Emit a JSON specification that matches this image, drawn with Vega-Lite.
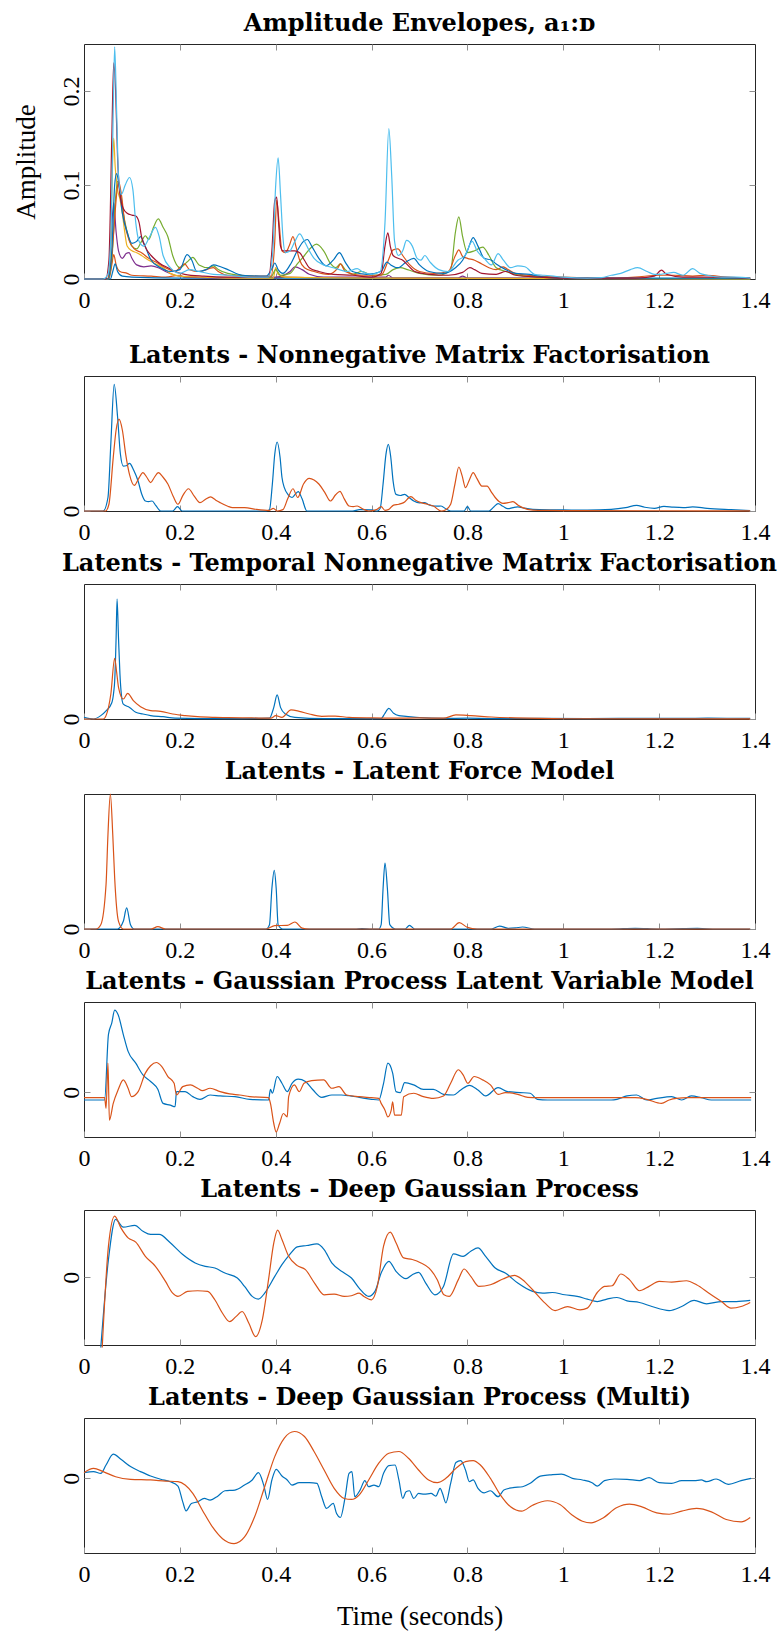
{
"$schema":"https://vega.github.io/schema/vega-lite/v6.json",
"background":"white",
"padding":{"left":11,"top":11,"right":5,"bottom":5},
"spacing":6,
"resolve":{"scale":{"color":"independent"}},
"config":{
 "view":{"stroke":"#262626","strokeWidth":1},
 "axis":{"domain":false,"grid":false,"tickColor":"#909090","tickSize":-6,"tickWidth":1,"labelFont":"Liberation Serif","labelFontSize":24,"labelColor":"#000","titleFont":"Liberation Serif","titleFontSize":27,"titleFontWeight":"normal","titleColor":"#000","labelFlush":false,"labelOverlap":false,"labelBound":false},
 "axisX":{"labelPadding":15},
 "axisY":{"labelAngle":-90,"labelAlign":"center","labelBaseline":"alphabetic","labelPadding":12},
 "title":{"font":"DejaVu Serif","fontSize":24,"fontWeight":"bold","color":"#000","offset":8},
 "line":{"strokeWidth":1.2,"interpolate":"monotone","clip":true}
},
"datasets":{
"p1":[
{"s":"a1","t":0,"v":0},{"s":"a1","t":0.052,"v":0},{"s":"a1","t":0.058,"v":0.015},{"s":"a1","t":0.062,"v":0.026},{"s":"a1","t":0.067,"v":0.015},{"s":"a1","t":0.075,"v":0.008},{"s":"a1","t":0.09,"v":0.006},{"s":"a1","t":0.1,"v":0.004},{"s":"a1","t":0.14,"v":0.003},{"s":"a1","t":0.17,"v":0.002},{"s":"a1","t":0.2,"v":0.004},{"s":"a1","t":0.21,"v":0.002},{"s":"a1","t":0.3,"v":0.001},{"s":"a1","t":0.4,"v":0.001},{"s":"a1","t":0.42,"v":0.002},{"s":"a1","t":0.5,"v":0.001},{"s":"a1","t":1.39,"v":0},
{"s":"a2","t":0,"v":0},{"s":"a2","t":0.055,"v":0},{"s":"a2","t":0.06,"v":0.008},{"s":"a2","t":0.065,"v":0.016},{"s":"a2","t":0.07,"v":0.008},{"s":"a2","t":0.08,"v":0.003},{"s":"a2","t":0.1,"v":0.002},{"s":"a2","t":0.2,"v":0.001},{"s":"a2","t":0.4,"v":0.001},{"s":"a2","t":1.39,"v":0},
{"s":"a3","t":0,"v":0},{"s":"a3","t":0.05,"v":0},{"s":"a3","t":0.056,"v":0.04},{"s":"a3","t":0.062,"v":0.081},{"s":"a3","t":0.067,"v":0.05},{"s":"a3","t":0.072,"v":0.03},{"s":"a3","t":0.08,"v":0.022},{"s":"a3","t":0.088,"v":0.027},{"s":"a3","t":0.094,"v":0.028},{"s":"a3","t":0.1,"v":0.022},{"s":"a3","t":0.11,"v":0.015},{"s":"a3","t":0.125,"v":0.013},{"s":"a3","t":0.14,"v":0.014},{"s":"a3","t":0.155,"v":0.012},{"s":"a3","t":0.17,"v":0.008},{"s":"a3","t":0.19,"v":0.004},{"s":"a3","t":0.22,"v":0.002},{"s":"a3","t":0.3,"v":0.001},{"s":"a3","t":0.4,"v":0.002},{"s":"a3","t":0.43,"v":0.008},{"s":"a3","t":0.44,"v":0.013},{"s":"a3","t":0.455,"v":0.01},{"s":"a3","t":0.47,"v":0.005},{"s":"a3","t":0.5,"v":0.002},{"s":"a3","t":0.63,"v":0.002},{"s":"a3","t":0.635,"v":0.004},{"s":"a3","t":0.645,"v":0.001},{"s":"a3","t":0.78,"v":0.001},{"s":"a3","t":0.79,"v":0.003},{"s":"a3","t":0.8,"v":0.001},{"s":"a3","t":1.39,"v":0},
{"s":"a4","t":0,"v":0},{"s":"a4","t":0.05,"v":0},{"s":"a4","t":0.055,"v":0.02},{"s":"a4","t":0.058,"v":0.09},{"s":"a4","t":0.062,"v":0.15},{"s":"a4","t":0.065,"v":0.12},{"s":"a4","t":0.07,"v":0.095},{"s":"a4","t":0.075,"v":0.085},{"s":"a4","t":0.08,"v":0.07},{"s":"a4","t":0.085,"v":0.05},{"s":"a4","t":0.09,"v":0.035},{"s":"a4","t":0.1,"v":0.03},{"s":"a4","t":0.11,"v":0.028},{"s":"a4","t":0.12,"v":0.025},{"s":"a4","t":0.135,"v":0.02},{"s":"a4","t":0.15,"v":0.016},{"s":"a4","t":0.165,"v":0.012},{"s":"a4","t":0.18,"v":0.006},{"s":"a4","t":0.2,"v":0.003},{"s":"a4","t":0.25,"v":0.002},{"s":"a4","t":0.3,"v":0.001},{"s":"a4","t":0.395,"v":0.001},{"s":"a4","t":0.4,"v":0.012},{"s":"a4","t":0.405,"v":0.005},{"s":"a4","t":0.42,"v":0.002},{"s":"a4","t":0.6,"v":0.001},{"s":"a4","t":1.39,"v":0},
{"s":"a5","t":0,"v":0},{"s":"a5","t":0.05,"v":0},{"s":"a5","t":0.058,"v":0.02},{"s":"a5","t":0.065,"v":0.08},{"s":"a5","t":0.07,"v":0.104},{"s":"a5","t":0.075,"v":0.095},{"s":"a5","t":0.082,"v":0.07},{"s":"a5","t":0.09,"v":0.05},{"s":"a5","t":0.1,"v":0.035},{"s":"a5","t":0.11,"v":0.032},{"s":"a5","t":0.12,"v":0.04},{"s":"a5","t":0.128,"v":0.046},{"s":"a5","t":0.135,"v":0.042},{"s":"a5","t":0.145,"v":0.055},{"s":"a5","t":0.155,"v":0.064},{"s":"a5","t":0.165,"v":0.055},{"s":"a5","t":0.175,"v":0.045},{"s":"a5","t":0.185,"v":0.025},{"s":"a5","t":0.2,"v":0.012},{"s":"a5","t":0.215,"v":0.018},{"s":"a5","t":0.227,"v":0.023},{"s":"a5","t":0.24,"v":0.015},{"s":"a5","t":0.26,"v":0.012},{"s":"a5","t":0.27,"v":0.014},{"s":"a5","t":0.28,"v":0.01},{"s":"a5","t":0.3,"v":0.006},{"s":"a5","t":0.35,"v":0.003},{"s":"a5","t":0.39,"v":0.002},{"s":"a5","t":0.4,"v":0.01},{"s":"a5","t":0.41,"v":0.004},{"s":"a5","t":0.43,"v":0.006},{"s":"a5","t":0.445,"v":0.016},{"s":"a5","t":0.46,"v":0.025},{"s":"a5","t":0.475,"v":0.034},{"s":"a5","t":0.485,"v":0.037},{"s":"a5","t":0.5,"v":0.03},{"s":"a5","t":0.515,"v":0.016},{"s":"a5","t":0.525,"v":0.012},{"s":"a5","t":0.535,"v":0.016},{"s":"a5","t":0.545,"v":0.01},{"s":"a5","t":0.56,"v":0.005},{"s":"a5","t":0.58,"v":0.008},{"s":"a5","t":0.6,"v":0.004},{"s":"a5","t":0.63,"v":0.005},{"s":"a5","t":0.645,"v":0.01},{"s":"a5","t":0.66,"v":0.012},{"s":"a5","t":0.675,"v":0.01},{"s":"a5","t":0.7,"v":0.006},{"s":"a5","t":0.74,"v":0.004},{"s":"a5","t":0.765,"v":0.01},{"s":"a5","t":0.775,"v":0.05},{"s":"a5","t":0.782,"v":0.066},{"s":"a5","t":0.79,"v":0.045},{"s":"a5","t":0.8,"v":0.028},{"s":"a5","t":0.815,"v":0.03},{"s":"a5","t":0.832,"v":0.034},{"s":"a5","t":0.845,"v":0.025},{"s":"a5","t":0.86,"v":0.012},{"s":"a5","t":0.88,"v":0.008},{"s":"a5","t":0.9,"v":0.005},{"s":"a5","t":0.95,"v":0.002},{"s":"a5","t":1.0,"v":0.001},{"s":"a5","t":1.39,"v":0},
{"s":"a6","t":0,"v":0},{"s":"a6","t":0.048,"v":0},{"s":"a6","t":0.055,"v":0.01},{"s":"a6","t":0.062,"v":0.05},{"s":"a6","t":0.068,"v":0.09},{"s":"a6","t":0.072,"v":0.104},{"s":"a6","t":0.078,"v":0.09},{"s":"a6","t":0.085,"v":0.06},{"s":"a6","t":0.095,"v":0.04},{"s":"a6","t":0.105,"v":0.032},{"s":"a6","t":0.12,"v":0.028},{"s":"a6","t":0.135,"v":0.022},{"s":"a6","t":0.15,"v":0.018},{"s":"a6","t":0.17,"v":0.012},{"s":"a6","t":0.19,"v":0.008},{"s":"a6","t":0.2,"v":0.012},{"s":"a6","t":0.21,"v":0.016},{"s":"a6","t":0.22,"v":0.01},{"s":"a6","t":0.24,"v":0.008},{"s":"a6","t":0.27,"v":0.012},{"s":"a6","t":0.28,"v":0.008},{"s":"a6","t":0.3,"v":0.004},{"s":"a6","t":0.35,"v":0.003},{"s":"a6","t":0.39,"v":0.003},{"s":"a6","t":0.398,"v":0.04},{"s":"a6","t":0.402,"v":0.084},{"s":"a6","t":0.407,"v":0.06},{"s":"a6","t":0.413,"v":0.03},{"s":"a6","t":0.42,"v":0.028},{"s":"a6","t":0.428,"v":0.035},{"s":"a6","t":0.436,"v":0.045},{"s":"a6","t":0.442,"v":0.035},{"s":"a6","t":0.45,"v":0.02},{"s":"a6","t":0.46,"v":0.012},{"s":"a6","t":0.48,"v":0.008},{"s":"a6","t":0.51,"v":0.005},{"s":"a6","t":0.53,"v":0.012},{"s":"a6","t":0.535,"v":0.016},{"s":"a6","t":0.545,"v":0.008},{"s":"a6","t":0.58,"v":0.004},{"s":"a6","t":0.62,"v":0.004},{"s":"a6","t":0.635,"v":0.02},{"s":"a6","t":0.645,"v":0.031},{"s":"a6","t":0.655,"v":0.032},{"s":"a6","t":0.665,"v":0.025},{"s":"a6","t":0.68,"v":0.015},{"s":"a6","t":0.7,"v":0.008},{"s":"a6","t":0.73,"v":0.006},{"s":"a6","t":0.76,"v":0.008},{"s":"a6","t":0.775,"v":0.025},{"s":"a6","t":0.782,"v":0.031},{"s":"a6","t":0.79,"v":0.024},{"s":"a6","t":0.8,"v":0.022},{"s":"a6","t":0.815,"v":0.02},{"s":"a6","t":0.83,"v":0.016},{"s":"a6","t":0.845,"v":0.012},{"s":"a6","t":0.86,"v":0.01},{"s":"a6","t":0.875,"v":0.013},{"s":"a6","t":0.885,"v":0.01},{"s":"a6","t":0.9,"v":0.006},{"s":"a6","t":0.95,"v":0.003},{"s":"a6","t":1.0,"v":0.002},{"s":"a6","t":1.1,"v":0.001},{"s":"a6","t":1.15,"v":0.002},{"s":"a6","t":1.2,"v":0.004},{"s":"a6","t":1.23,"v":0.004},{"s":"a6","t":1.27,"v":0.003},{"s":"a6","t":1.3,"v":0.004},{"s":"a6","t":1.34,"v":0.002},{"s":"a6","t":1.39,"v":0.001},
{"s":"a7","t":0,"v":0},{"s":"a7","t":0.05,"v":0},{"s":"a7","t":0.058,"v":0.03},{"s":"a7","t":0.064,"v":0.1},{"s":"a7","t":0.068,"v":0.112},{"s":"a7","t":0.073,"v":0.1},{"s":"a7","t":0.08,"v":0.07},{"s":"a7","t":0.09,"v":0.05},{"s":"a7","t":0.1,"v":0.038},{"s":"a7","t":0.11,"v":0.04},{"s":"a7","t":0.118,"v":0.045},{"s":"a7","t":0.125,"v":0.038},{"s":"a7","t":0.14,"v":0.02},{"s":"a7","t":0.16,"v":0.012},{"s":"a7","t":0.18,"v":0.008},{"s":"a7","t":0.2,"v":0.01},{"s":"a7","t":0.215,"v":0.026},{"s":"a7","t":0.225,"v":0.02},{"s":"a7","t":0.235,"v":0.008},{"s":"a7","t":0.255,"v":0.01},{"s":"a7","t":0.27,"v":0.015},{"s":"a7","t":0.285,"v":0.013},{"s":"a7","t":0.3,"v":0.01},{"s":"a7","t":0.33,"v":0.004},{"s":"a7","t":0.38,"v":0.003},{"s":"a7","t":0.393,"v":0.012},{"s":"a7","t":0.398,"v":0.017},{"s":"a7","t":0.405,"v":0.01},{"s":"a7","t":0.415,"v":0.006},{"s":"a7","t":0.43,"v":0.015},{"s":"a7","t":0.445,"v":0.03},{"s":"a7","t":0.458,"v":0.04},{"s":"a7","t":0.466,"v":0.042},{"s":"a7","t":0.475,"v":0.035},{"s":"a7","t":0.49,"v":0.022},{"s":"a7","t":0.505,"v":0.014},{"s":"a7","t":0.52,"v":0.02},{"s":"a7","t":0.533,"v":0.028},{"s":"a7","t":0.545,"v":0.018},{"s":"a7","t":0.56,"v":0.008},{"s":"a7","t":0.59,"v":0.005},{"s":"a7","t":0.62,"v":0.008},{"s":"a7","t":0.632,"v":0.018},{"s":"a7","t":0.64,"v":0.015},{"s":"a7","t":0.655,"v":0.012},{"s":"a7","t":0.672,"v":0.018},{"s":"a7","t":0.688,"v":0.022},{"s":"a7","t":0.7,"v":0.015},{"s":"a7","t":0.72,"v":0.008},{"s":"a7","t":0.75,"v":0.006},{"s":"a7","t":0.775,"v":0.012},{"s":"a7","t":0.79,"v":0.02},{"s":"a7","t":0.8,"v":0.03},{"s":"a7","t":0.812,"v":0.044},{"s":"a7","t":0.822,"v":0.035},{"s":"a7","t":0.835,"v":0.022},{"s":"a7","t":0.85,"v":0.02},{"s":"a7","t":0.86,"v":0.016},{"s":"a7","t":0.88,"v":0.01},{"s":"a7","t":0.9,"v":0.006},{"s":"a7","t":0.93,"v":0.005},{"s":"a7","t":0.96,"v":0.002},{"s":"a7","t":1.0,"v":0.001},{"s":"a7","t":1.39,"v":0.001},
{"s":"a8","t":0,"v":0},{"s":"a8","t":0.045,"v":0},{"s":"a8","t":0.052,"v":0.02},{"s":"a8","t":0.058,"v":0.15},{"s":"a8","t":0.062,"v":0.23},{"s":"a8","t":0.066,"v":0.2},{"s":"a8","t":0.07,"v":0.13},{"s":"a8","t":0.075,"v":0.09},{"s":"a8","t":0.082,"v":0.075},{"s":"a8","t":0.09,"v":0.07},{"s":"a8","t":0.1,"v":0.068},{"s":"a8","t":0.108,"v":0.067},{"s":"a8","t":0.115,"v":0.06},{"s":"a8","t":0.12,"v":0.045},{"s":"a8","t":0.13,"v":0.032},{"s":"a8","t":0.14,"v":0.025},{"s":"a8","t":0.15,"v":0.02},{"s":"a8","t":0.16,"v":0.016},{"s":"a8","t":0.175,"v":0.012},{"s":"a8","t":0.19,"v":0.008},{"s":"a8","t":0.21,"v":0.005},{"s":"a8","t":0.25,"v":0.003},{"s":"a8","t":0.3,"v":0.002},{"s":"a8","t":0.385,"v":0.002},{"s":"a8","t":0.392,"v":0.03},{"s":"a8","t":0.398,"v":0.083},{"s":"a8","t":0.402,"v":0.087},{"s":"a8","t":0.406,"v":0.06},{"s":"a8","t":0.41,"v":0.035},{"s":"a8","t":0.415,"v":0.03},{"s":"a8","t":0.425,"v":0.03},{"s":"a8","t":0.44,"v":0.03},{"s":"a8","t":0.45,"v":0.028},{"s":"a8","t":0.46,"v":0.02},{"s":"a8","t":0.47,"v":0.012},{"s":"a8","t":0.49,"v":0.008},{"s":"a8","t":0.52,"v":0.005},{"s":"a8","t":0.56,"v":0.004},{"s":"a8","t":0.6,"v":0.002},{"s":"a8","t":0.62,"v":0.006},{"s":"a8","t":0.628,"v":0.035},{"s":"a8","t":0.634,"v":0.049},{"s":"a8","t":0.639,"v":0.035},{"s":"a8","t":0.645,"v":0.025},{"s":"a8","t":0.655,"v":0.022},{"s":"a8","t":0.665,"v":0.02},{"s":"a8","t":0.675,"v":0.015},{"s":"a8","t":0.69,"v":0.008},{"s":"a8","t":0.72,"v":0.005},{"s":"a8","t":0.76,"v":0.004},{"s":"a8","t":0.79,"v":0.007},{"s":"a8","t":0.805,"v":0.012},{"s":"a8","t":0.815,"v":0.01},{"s":"a8","t":0.83,"v":0.006},{"s":"a8","t":0.86,"v":0.005},{"s":"a8","t":0.88,"v":0.008},{"s":"a8","t":0.9,"v":0.004},{"s":"a8","t":0.95,"v":0.002},{"s":"a8","t":1.0,"v":0.001},{"s":"a8","t":1.15,"v":0.001},{"s":"a8","t":1.19,"v":0.003},{"s":"a8","t":1.205,"v":0.0095},{"s":"a8","t":1.215,"v":0.005},{"s":"a8","t":1.25,"v":0.002},{"s":"a8","t":1.3,"v":0.002},{"s":"a8","t":1.39,"v":0.001},
{"s":"a9","t":0,"v":0},{"s":"a9","t":0.04,"v":0},{"s":"a9","t":0.05,"v":0.005},{"s":"a9","t":0.057,"v":0.06},{"s":"a9","t":0.061,"v":0.18},{"s":"a9","t":0.064,"v":0.247},{"s":"a9","t":0.068,"v":0.18},{"s":"a9","t":0.072,"v":0.11},{"s":"a9","t":0.078,"v":0.09},{"s":"a9","t":0.086,"v":0.1},{"s":"a9","t":0.095,"v":0.108},{"s":"a9","t":0.102,"v":0.095},{"s":"a9","t":0.108,"v":0.06},{"s":"a9","t":0.115,"v":0.04},{"s":"a9","t":0.125,"v":0.035},{"s":"a9","t":0.137,"v":0.045},{"s":"a9","t":0.149,"v":0.055},{"s":"a9","t":0.157,"v":0.045},{"s":"a9","t":0.165,"v":0.025},{"s":"a9","t":0.18,"v":0.012},{"s":"a9","t":0.2,"v":0.006},{"s":"a9","t":0.22,"v":0.01},{"s":"a9","t":0.24,"v":0.008},{"s":"a9","t":0.27,"v":0.005},{"s":"a9","t":0.3,"v":0.004},{"s":"a9","t":0.35,"v":0.002},{"s":"a9","t":0.385,"v":0.002},{"s":"a9","t":0.394,"v":0.03},{"s":"a9","t":0.4,"v":0.1},{"s":"a9","t":0.405,"v":0.129},{"s":"a9","t":0.41,"v":0.09},{"s":"a9","t":0.415,"v":0.045},{"s":"a9","t":0.42,"v":0.028},{"s":"a9","t":0.43,"v":0.03},{"s":"a9","t":0.44,"v":0.04},{"s":"a9","t":0.45,"v":0.048},{"s":"a9","t":0.46,"v":0.04},{"s":"a9","t":0.47,"v":0.03},{"s":"a9","t":0.48,"v":0.022},{"s":"a9","t":0.5,"v":0.015},{"s":"a9","t":0.52,"v":0.012},{"s":"a9","t":0.55,"v":0.008},{"s":"a9","t":0.57,"v":0.011},{"s":"a9","t":0.58,"v":0.008},{"s":"a9","t":0.6,"v":0.005},{"s":"a9","t":0.618,"v":0.008},{"s":"a9","t":0.628,"v":0.06},{"s":"a9","t":0.636,"v":0.16},{"s":"a9","t":0.642,"v":0.11},{"s":"a9","t":0.648,"v":0.04},{"s":"a9","t":0.656,"v":0.025},{"s":"a9","t":0.665,"v":0.03},{"s":"a9","t":0.673,"v":0.041},{"s":"a9","t":0.685,"v":0.035},{"s":"a9","t":0.695,"v":0.022},{"s":"a9","t":0.703,"v":0.02},{"s":"a9","t":0.711,"v":0.025},{"s":"a9","t":0.722,"v":0.018},{"s":"a9","t":0.74,"v":0.01},{"s":"a9","t":0.76,"v":0.008},{"s":"a9","t":0.78,"v":0.02},{"s":"a9","t":0.795,"v":0.025},{"s":"a9","t":0.81,"v":0.04},{"s":"a9","t":0.82,"v":0.03},{"s":"a9","t":0.835,"v":0.022},{"s":"a9","t":0.85,"v":0.015},{"s":"a9","t":0.864,"v":0.027},{"s":"a9","t":0.875,"v":0.02},{"s":"a9","t":0.89,"v":0.012},{"s":"a9","t":0.905,"v":0.014},{"s":"a9","t":0.92,"v":0.013},{"s":"a9","t":0.94,"v":0.005},{"s":"a9","t":0.96,"v":0.004},{"s":"a9","t":0.98,"v":0.003},{"s":"a9","t":1.0,"v":0.002},{"s":"a9","t":1.05,"v":0.001},{"s":"a9","t":1.08,"v":0.0015},{"s":"a9","t":1.1,"v":0.004},{"s":"a9","t":1.12,"v":0.006},{"s":"a9","t":1.14,"v":0.01},{"s":"a9","t":1.155,"v":0.012},{"s":"a9","t":1.175,"v":0.008},{"s":"a9","t":1.19,"v":0.005},{"s":"a9","t":1.2,"v":0.005},{"s":"a9","t":1.215,"v":0.006},{"s":"a9","t":1.23,"v":0.007},{"s":"a9","t":1.25,"v":0.004},{"s":"a9","t":1.27,"v":0.011},{"s":"a9","t":1.285,"v":0.006},{"s":"a9","t":1.3,"v":0.004},{"s":"a9","t":1.33,"v":0.002},{"s":"a9","t":1.36,"v":0.002},{"s":"a9","t":1.39,"v":0.001}
],
"p2":[
{"s":"a","t":0,"v":0},{"s":"a","t":0.04,"v":0},{"s":"a","t":0.05,"v":0.1},{"s":"a","t":0.056,"v":0.5},{"s":"a","t":0.063,"v":0.938},{"s":"a","t":0.07,"v":0.7},{"s":"a","t":0.076,"v":0.42},{"s":"a","t":0.082,"v":0.333},{"s":"a","t":0.088,"v":0.335},{"s":"a","t":0.095,"v":0.353},{"s":"a","t":0.104,"v":0.3},{"s":"a","t":0.113,"v":0.22},{"s":"a","t":0.12,"v":0.13},{"s":"a","t":0.128,"v":0.074},{"s":"a","t":0.135,"v":0.07},{"s":"a","t":0.142,"v":0.074},{"s":"a","t":0.15,"v":0.04},{"s":"a","t":0.16,"v":0},{"s":"a","t":0.185,"v":0},{"s":"a","t":0.195,"v":0.032},{"s":"a","t":0.205,"v":0},{"s":"a","t":0.38,"v":0},{"s":"a","t":0.387,"v":0.01},{"s":"a","t":0.393,"v":0.2},{"s":"a","t":0.398,"v":0.42},{"s":"a","t":0.403,"v":0.511},{"s":"a","t":0.409,"v":0.4},{"s":"a","t":0.413,"v":0.25},{"s":"a","t":0.418,"v":0.173},{"s":"a","t":0.426,"v":0.12},{"s":"a","t":0.434,"v":0.1},{"s":"a","t":0.441,"v":0.125},{"s":"a","t":0.447,"v":0.143},{"s":"a","t":0.455,"v":0.09},{"s":"a","t":0.465,"v":0},{"s":"a","t":0.56,"v":0},{"s":"a","t":0.575,"v":0.01},{"s":"a","t":0.6,"v":0.008},{"s":"a","t":0.612,"v":0},{"s":"a","t":0.618,"v":0.02},{"s":"a","t":0.624,"v":0.2},{"s":"a","t":0.63,"v":0.42},{"s":"a","t":0.635,"v":0.494},{"s":"a","t":0.64,"v":0.4},{"s":"a","t":0.645,"v":0.22},{"s":"a","t":0.651,"v":0.123},{"s":"a","t":0.66,"v":0.115},{"s":"a","t":0.669,"v":0.123},{"s":"a","t":0.678,"v":0.1},{"s":"a","t":0.688,"v":0.074},{"s":"a","t":0.7,"v":0.06},{"s":"a","t":0.71,"v":0.062},{"s":"a","t":0.72,"v":0.045},{"s":"a","t":0.729,"v":0.037},{"s":"a","t":0.737,"v":0.036},{"s":"a","t":0.745,"v":0.037},{"s":"a","t":0.755,"v":0.015},{"s":"a","t":0.765,"v":0},{"s":"a","t":0.793,"v":0},{"s":"a","t":0.8,"v":0.032},{"s":"a","t":0.807,"v":0},{"s":"a","t":0.845,"v":0},{"s":"a","t":0.855,"v":0.03},{"s":"a","t":0.864,"v":0.054},{"s":"a","t":0.874,"v":0.035},{"s":"a","t":0.884,"v":0.017},{"s":"a","t":0.895,"v":0.025},{"s":"a","t":0.905,"v":0.03},{"s":"a","t":0.915,"v":0.024},{"s":"a","t":0.925,"v":0.017},{"s":"a","t":0.95,"v":0.01},{"s":"a","t":1.0,"v":0.008},{"s":"a","t":1.05,"v":0.006},{"s":"a","t":1.1,"v":0.012},{"s":"a","t":1.13,"v":0.025},{"s":"a","t":1.153,"v":0.042},{"s":"a","t":1.17,"v":0.028},{"s":"a","t":1.19,"v":0.02},{"s":"a","t":1.21,"v":0.034},{"s":"a","t":1.23,"v":0.028},{"s":"a","t":1.25,"v":0.025},{"s":"a","t":1.27,"v":0.03},{"s":"a","t":1.3,"v":0.02},{"s":"a","t":1.35,"v":0.01},{"s":"a","t":1.39,"v":0.003},
{"s":"b","t":0,"v":0},{"s":"b","t":0.045,"v":0},{"s":"b","t":0.052,"v":0.05},{"s":"b","t":0.061,"v":0.395},{"s":"b","t":0.067,"v":0.6},{"s":"b","t":0.073,"v":0.68},{"s":"b","t":0.08,"v":0.6},{"s":"b","t":0.087,"v":0.42},{"s":"b","t":0.095,"v":0.27},{"s":"b","t":0.105,"v":0.19},{"s":"b","t":0.114,"v":0.24},{"s":"b","t":0.123,"v":0.284},{"s":"b","t":0.131,"v":0.25},{"s":"b","t":0.139,"v":0.21},{"s":"b","t":0.147,"v":0.25},{"s":"b","t":0.155,"v":0.284},{"s":"b","t":0.165,"v":0.25},{"s":"b","t":0.175,"v":0.2},{"s":"b","t":0.186,"v":0.11},{"s":"b","t":0.196,"v":0.05},{"s":"b","t":0.207,"v":0.12},{"s":"b","t":0.218,"v":0.165},{"s":"b","t":0.23,"v":0.11},{"s":"b","t":0.242,"v":0.062},{"s":"b","t":0.253,"v":0.085},{"s":"b","t":0.264,"v":0.104},{"s":"b","t":0.275,"v":0.08},{"s":"b","t":0.284,"v":0.062},{"s":"b","t":0.3,"v":0.035},{"s":"b","t":0.31,"v":0.025},{"s":"b","t":0.335,"v":0.025},{"s":"b","t":0.36,"v":0.012},{"s":"b","t":0.387,"v":0.005},{"s":"b","t":0.395,"v":0.02},{"s":"b","t":0.403,"v":0},{"s":"b","t":0.415,"v":0.01},{"s":"b","t":0.425,"v":0.09},{"s":"b","t":0.436,"v":0.165},{"s":"b","t":0.446,"v":0.1},{"s":"b","t":0.458,"v":0.2},{"s":"b","t":0.47,"v":0.242},{"s":"b","t":0.48,"v":0.23},{"s":"b","t":0.49,"v":0.2},{"s":"b","t":0.502,"v":0.14},{"s":"b","t":0.514,"v":0.074},{"s":"b","t":0.525,"v":0.12},{"s":"b","t":0.534,"v":0.146},{"s":"b","t":0.543,"v":0.09},{"s":"b","t":0.553,"v":0.037},{"s":"b","t":0.562,"v":0.033},{"s":"b","t":0.57,"v":0.037},{"s":"b","t":0.582,"v":0.015},{"s":"b","t":0.594,"v":0},{"s":"b","t":0.61,"v":0.01},{"s":"b","t":0.62,"v":0.032},{"s":"b","t":0.628,"v":0.005},{"s":"b","t":0.635,"v":0.01},{"s":"b","t":0.646,"v":0.044},{"s":"b","t":0.657,"v":0.05},{"s":"b","t":0.667,"v":0.062},{"s":"b","t":0.682,"v":0.106},{"s":"b","t":0.692,"v":0.08},{"s":"b","t":0.703,"v":0.062},{"s":"b","t":0.716,"v":0.05},{"s":"b","t":0.729,"v":0.037},{"s":"b","t":0.745,"v":0},{"s":"b","t":0.755,"v":0.01},{"s":"b","t":0.765,"v":0.05},{"s":"b","t":0.774,"v":0.2},{"s":"b","t":0.782,"v":0.326},{"s":"b","t":0.789,"v":0.26},{"s":"b","t":0.796,"v":0.173},{"s":"b","t":0.804,"v":0.23},{"s":"b","t":0.812,"v":0.284},{"s":"b","t":0.82,"v":0.24},{"s":"b","t":0.83,"v":0.185},{"s":"b","t":0.841,"v":0.185},{"s":"b","t":0.85,"v":0.14},{"s":"b","t":0.858,"v":0.1},{"s":"b","t":0.866,"v":0.07},{"s":"b","t":0.874,"v":0.057},{"s":"b","t":0.885,"v":0.062},{"s":"b","t":0.895,"v":0.069},{"s":"b","t":0.905,"v":0.045},{"s":"b","t":0.915,"v":0.025},{"s":"b","t":0.936,"v":0.007},{"s":"b","t":0.97,"v":0.004},{"s":"b","t":1.0,"v":0.003},{"s":"b","t":1.2,"v":0.002},{"s":"b","t":1.39,"v":0.001}
],
"p3":[
{"s":"a","t":0,"v":0.012},{"s":"a","t":0.02,"v":0},{"s":"a","t":0.035,"v":0.025},{"s":"a","t":0.046,"v":0.06},{"s":"a","t":0.058,"v":0.12},{"s":"a","t":0.062,"v":0.2},{"s":"a","t":0.064,"v":0.28},{"s":"a","t":0.067,"v":0.6},{"s":"a","t":0.069,"v":0.889},{"s":"a","t":0.072,"v":0.6},{"s":"a","t":0.075,"v":0.333},{"s":"a","t":0.078,"v":0.18},{"s":"a","t":0.082,"v":0.11},{"s":"a","t":0.095,"v":0.086},{"s":"a","t":0.108,"v":0.05},{"s":"a","t":0.123,"v":0.037},{"s":"a","t":0.139,"v":0.025},{"s":"a","t":0.165,"v":0.017},{"s":"a","t":0.19,"v":0.007},{"s":"a","t":0.3,"v":0.003},{"s":"a","t":0.387,"v":0.007},{"s":"a","t":0.396,"v":0.086},{"s":"a","t":0.403,"v":0.178},{"s":"a","t":0.41,"v":0.086},{"s":"a","t":0.42,"v":0.037},{"s":"a","t":0.44,"v":0.012},{"s":"a","t":0.5,"v":0.003},{"s":"a","t":0.62,"v":0.003},{"s":"a","t":0.627,"v":0.037},{"s":"a","t":0.636,"v":0.079},{"s":"a","t":0.646,"v":0.042},{"s":"a","t":0.657,"v":0.025},{"s":"a","t":0.672,"v":0.02},{"s":"a","t":0.7,"v":0.01},{"s":"a","t":0.75,"v":0.004},{"s":"a","t":0.8,"v":0.006},{"s":"a","t":0.85,"v":0.003},{"s":"a","t":0.95,"v":0.004},{"s":"a","t":1.05,"v":0.003},{"s":"a","t":1.15,"v":0.005},{"s":"a","t":1.25,"v":0.004},{"s":"a","t":1.3,"v":0.006},{"s":"a","t":1.39,"v":0.004},
{"s":"b","t":0,"v":0},{"s":"b","t":0.04,"v":0},{"s":"b","t":0.046,"v":0.025},{"s":"b","t":0.056,"v":0.185},{"s":"b","t":0.064,"v":0.45},{"s":"b","t":0.068,"v":0.35},{"s":"b","t":0.072,"v":0.235},{"s":"b","t":0.082,"v":0.148},{"s":"b","t":0.091,"v":0.19},{"s":"b","t":0.103,"v":0.136},{"s":"b","t":0.118,"v":0.091},{"s":"b","t":0.139,"v":0.062},{"s":"b","t":0.16,"v":0.057},{"s":"b","t":0.185,"v":0.037},{"s":"b","t":0.211,"v":0.025},{"s":"b","t":0.237,"v":0.017},{"s":"b","t":0.273,"v":0.012},{"s":"b","t":0.3,"v":0.01},{"s":"b","t":0.35,"v":0.008},{"s":"b","t":0.39,"v":0.006},{"s":"b","t":0.4,"v":0.025},{"s":"b","t":0.413,"v":0.012},{"s":"b","t":0.432,"v":0.067},{"s":"b","t":0.449,"v":0.057},{"s":"b","t":0.47,"v":0.037},{"s":"b","t":0.496,"v":0.02},{"s":"b","t":0.524,"v":0.022},{"s":"b","t":0.553,"v":0.012},{"s":"b","t":0.6,"v":0.008},{"s":"b","t":0.65,"v":0.006},{"s":"b","t":0.7,"v":0.008},{"s":"b","t":0.75,"v":0.006},{"s":"b","t":0.776,"v":0.03},{"s":"b","t":0.807,"v":0.025},{"s":"b","t":0.85,"v":0.015},{"s":"b","t":0.9,"v":0.008},{"s":"b","t":0.95,"v":0.004},{"s":"b","t":1.0,"v":0.002},{"s":"b","t":1.39,"v":0.001}
],
"p4":[
{"s":"a","t":0,"v":0},{"s":"a","t":0.07,"v":0},{"s":"a","t":0.082,"v":0.057},{"s":"a","t":0.089,"v":0.156},{"s":"a","t":0.097,"v":0.032},{"s":"a","t":0.105,"v":0},{"s":"a","t":0.38,"v":0},{"s":"a","t":0.387,"v":0.032},{"s":"a","t":0.392,"v":0.3},{"s":"a","t":0.397,"v":0.435},{"s":"a","t":0.401,"v":0.3},{"s":"a","t":0.405,"v":0.032},{"s":"a","t":0.415,"v":0},{"s":"a","t":0.565,"v":0},{"s":"a","t":0.58,"v":0.003},{"s":"a","t":0.6,"v":0},{"s":"a","t":0.615,"v":0},{"s":"a","t":0.62,"v":0.032},{"s":"a","t":0.624,"v":0.3},{"s":"a","t":0.628,"v":0.489},{"s":"a","t":0.633,"v":0.3},{"s":"a","t":0.638,"v":0.032},{"s":"a","t":0.65,"v":0},{"s":"a","t":0.67,"v":0},{"s":"a","t":0.679,"v":0.027},{"s":"a","t":0.69,"v":0},{"s":"a","t":0.85,"v":0},{"s":"a","t":0.867,"v":0.022},{"s":"a","t":0.885,"v":0.005},{"s":"a","t":0.9,"v":0.008},{"s":"a","t":0.915,"v":0.015},{"s":"a","t":0.94,"v":0},{"s":"a","t":1.1,"v":0},{"s":"a","t":1.15,"v":0.005},{"s":"a","t":1.2,"v":0},{"s":"a","t":1.25,"v":0.003},{"s":"a","t":1.28,"v":0.004},{"s":"a","t":1.32,"v":0},{"s":"a","t":1.39,"v":0},
{"s":"b","t":0,"v":0},{"s":"b","t":0.025,"v":0},{"s":"b","t":0.035,"v":0.032},{"s":"b","t":0.046,"v":0.33},{"s":"b","t":0.05,"v":0.7},{"s":"b","t":0.055,"v":1.0},{"s":"b","t":0.06,"v":0.7},{"s":"b","t":0.064,"v":0.378},{"s":"b","t":0.072,"v":0.057},{"s":"b","t":0.082,"v":0},{"s":"b","t":0.14,"v":0},{"s":"b","t":0.154,"v":0.017},{"s":"b","t":0.17,"v":0},{"s":"b","t":0.38,"v":0},{"s":"b","t":0.398,"v":0.025},{"s":"b","t":0.424,"v":0.027},{"s":"b","t":0.44,"v":0.052},{"s":"b","t":0.455,"v":0.007},{"s":"b","t":0.47,"v":0},{"s":"b","t":0.765,"v":0},{"s":"b","t":0.783,"v":0.047},{"s":"b","t":0.8,"v":0.012},{"s":"b","t":0.82,"v":0},{"s":"b","t":1.39,"v":0}
],
"p5":[
{"s":"a","t":0,"v":-0.057},{"s":"a","t":0.043,"v":-0.057},{"s":"a","t":0.051,"v":0.428},{"s":"a","t":0.058,"v":0.515},{"s":"a","t":0.064,"v":0.609},{"s":"a","t":0.071,"v":0.577},{"s":"a","t":0.082,"v":0.428},{"s":"a","t":0.092,"v":0.303},{"s":"a","t":0.108,"v":0.216},{"s":"a","t":0.123,"v":0.129},{"s":"a","t":0.139,"v":0.08},{"s":"a","t":0.154,"v":0.022},{"s":"a","t":0.165,"v":-0.082},{"s":"a","t":0.18,"v":-0.095},{"s":"a","t":0.19,"v":-0.107},{"s":"a","t":0.193,"v":0.005},{"s":"a","t":0.211,"v":0.005},{"s":"a","t":0.227,"v":-0.032},{"s":"a","t":0.242,"v":-0.052},{"s":"a","t":0.263,"v":-0.02},{"s":"a","t":0.284,"v":-0.027},{"s":"a","t":0.315,"v":-0.032},{"s":"a","t":0.346,"v":-0.052},{"s":"a","t":0.385,"v":-0.057},{"s":"a","t":0.389,"v":0.022},{"s":"a","t":0.393,"v":-0.007},{"s":"a","t":0.403,"v":0.117},{"s":"a","t":0.413,"v":0.067},{"s":"a","t":0.424,"v":0.005},{"s":"a","t":0.434,"v":0.067},{"s":"a","t":0.447,"v":0.097},{"s":"a","t":0.462,"v":0.08},{"s":"a","t":0.478,"v":0.017},{"s":"a","t":0.496,"v":-0.037},{"s":"a","t":0.517,"v":-0.02},{"s":"a","t":0.537,"v":-0.02},{"s":"a","t":0.553,"v":-0.025},{"s":"a","t":0.574,"v":-0.037},{"s":"a","t":0.6,"v":-0.052},{"s":"a","t":0.615,"v":-0.057},{"s":"a","t":0.625,"v":0.067},{"s":"a","t":0.634,"v":0.216},{"s":"a","t":0.644,"v":0.142},{"s":"a","t":0.651,"v":0.005},{"s":"a","t":0.66,"v":-0.002},{"s":"a","t":0.669,"v":0.072},{"s":"a","t":0.688,"v":0.055},{"s":"a","t":0.708,"v":0.022},{"s":"a","t":0.729,"v":0.022},{"s":"a","t":0.75,"v":-0.015},{"s":"a","t":0.771,"v":-0.02},{"s":"a","t":0.786,"v":0.017},{"s":"a","t":0.804,"v":0.052},{"s":"a","t":0.822,"v":0.017},{"s":"a","t":0.838,"v":-0.027},{"s":"a","t":0.864,"v":0.035},{"s":"a","t":0.884,"v":0.005},{"s":"a","t":0.91,"v":-0.002},{"s":"a","t":0.931,"v":-0.007},{"s":"a","t":0.946,"v":-0.052},{"s":"a","t":0.967,"v":-0.057},{"s":"a","t":1.1,"v":-0.057},{"s":"a","t":1.112,"v":-0.052},{"s":"a","t":1.133,"v":-0.027},{"s":"a","t":1.153,"v":-0.02},{"s":"a","t":1.174,"v":-0.057},{"s":"a","t":1.195,"v":-0.045},{"s":"a","t":1.226,"v":-0.032},{"s":"a","t":1.247,"v":-0.057},{"s":"a","t":1.267,"v":-0.027},{"s":"a","t":1.288,"v":-0.04},{"s":"a","t":1.309,"v":-0.057},{"s":"a","t":1.392,"v":-0.057},
{"s":"b","t":0,"v":-0.04},{"s":"b","t":0.043,"v":-0.04},{"s":"b","t":0.046,"v":-0.119},{"s":"b","t":0.05,"v":0.216},{"s":"b","t":0.053,"v":-0.206},{"s":"b","t":0.061,"v":-0.082},{"s":"b","t":0.071,"v":0.017},{"s":"b","t":0.082,"v":0.092},{"s":"b","t":0.092,"v":0.03},{"s":"b","t":0.099,"v":-0.032},{"s":"b","t":0.113,"v":0.005},{"s":"b","t":0.128,"v":0.142},{"s":"b","t":0.139,"v":0.197},{"s":"b","t":0.151,"v":0.221},{"s":"b","t":0.162,"v":0.192},{"s":"b","t":0.175,"v":0.117},{"s":"b","t":0.188,"v":0.067},{"s":"b","t":0.193,"v":-0.02},{"s":"b","t":0.206,"v":0.042},{"s":"b","t":0.222,"v":0.055},{"s":"b","t":0.237,"v":0.03},{"s":"b","t":0.247,"v":0.012},{"s":"b","t":0.263,"v":0.03},{"s":"b","t":0.284,"v":0.005},{"s":"b","t":0.304,"v":-0.012},{"s":"b","t":0.325,"v":-0.02},{"s":"b","t":0.346,"v":-0.032},{"s":"b","t":0.385,"v":-0.04},{"s":"b","t":0.389,"v":-0.082},{"s":"b","t":0.396,"v":-0.231},{"s":"b","t":0.401,"v":-0.294},{"s":"b","t":0.408,"v":-0.231},{"s":"b","t":0.416,"v":-0.157},{"s":"b","t":0.424,"v":-0.182},{"s":"b","t":0.427,"v":-0.032},{"s":"b","t":0.439,"v":0.055},{"s":"b","t":0.449,"v":0.005},{"s":"b","t":0.459,"v":0.067},{"s":"b","t":0.475,"v":0.087},{"s":"b","t":0.5,"v":0.092},{"s":"b","t":0.517,"v":0.03},{"s":"b","t":0.532,"v":0.042},{"s":"b","t":0.548,"v":-0.02},{"s":"b","t":0.574,"v":-0.032},{"s":"b","t":0.6,"v":-0.04},{"s":"b","t":0.615,"v":-0.045},{"s":"b","t":0.62,"v":-0.082},{"s":"b","t":0.628,"v":-0.132},{"s":"b","t":0.634,"v":-0.182},{"s":"b","t":0.641,"v":-0.132},{"s":"b","t":0.644,"v":-0.07},{"s":"b","t":0.648,"v":-0.169},{"s":"b","t":0.662,"v":-0.169},{"s":"b","t":0.667,"v":-0.032},{"s":"b","t":0.688,"v":-0.007},{"s":"b","t":0.708,"v":-0.032},{"s":"b","t":0.729,"v":-0.045},{"s":"b","t":0.75,"v":-0.027},{"s":"b","t":0.765,"v":0.067},{"s":"b","t":0.781,"v":0.167},{"s":"b","t":0.791,"v":0.129},{"s":"b","t":0.801,"v":0.067},{"s":"b","t":0.814,"v":0.117},{"s":"b","t":0.832,"v":0.092},{"s":"b","t":0.848,"v":0.055},{"s":"b","t":0.864,"v":-0.015},{"s":"b","t":0.879,"v":-0.002},{"s":"b","t":0.905,"v":-0.015},{"s":"b","t":0.926,"v":-0.037},{"s":"b","t":0.946,"v":-0.04},{"s":"b","t":1.15,"v":-0.04},{"s":"b","t":1.174,"v":-0.052},{"s":"b","t":1.205,"v":-0.082},{"s":"b","t":1.221,"v":-0.057},{"s":"b","t":1.236,"v":-0.045},{"s":"b","t":1.26,"v":-0.04},{"s":"b","t":1.392,"v":-0.04}
],
"p6":[
{"s":"a","t":0.035,"v":-0.52},{"s":"a","t":0.051,"v":0.132},{"s":"a","t":0.066,"v":0.429},{"s":"a","t":0.082,"v":0.372},{"s":"a","t":0.106,"v":0.385},{"s":"a","t":0.123,"v":0.342},{"s":"a","t":0.139,"v":0.318},{"s":"a","t":0.157,"v":0.318},{"s":"a","t":0.18,"v":0.256},{"s":"a","t":0.206,"v":0.169},{"s":"a","t":0.232,"v":0.107},{"s":"a","t":0.253,"v":0.082},{"s":"a","t":0.273,"v":0.069},{"s":"a","t":0.294,"v":0.032},{"s":"a","t":0.32,"v":-0.005},{"s":"a","t":0.335,"v":-0.067},{"s":"a","t":0.351,"v":-0.141},{"s":"a","t":0.364,"v":-0.161},{"s":"a","t":0.377,"v":-0.117},{"s":"a","t":0.398,"v":0.007},{"s":"a","t":0.413,"v":0.094},{"s":"a","t":0.429,"v":0.169},{"s":"a","t":0.445,"v":0.226},{"s":"a","t":0.465,"v":0.236},{"s":"a","t":0.486,"v":0.248},{"s":"a","t":0.501,"v":0.206},{"s":"a","t":0.517,"v":0.107},{"s":"a","t":0.543,"v":0.032},{"s":"a","t":0.558,"v":-0.005},{"s":"a","t":0.574,"v":-0.079},{"s":"a","t":0.594,"v":-0.141},{"s":"a","t":0.607,"v":-0.104},{"s":"a","t":0.62,"v":0.032},{"s":"a","t":0.636,"v":0.119},{"s":"a","t":0.651,"v":0.045},{"s":"a","t":0.672,"v":-0.01},{"s":"a","t":0.685,"v":0.02},{"s":"a","t":0.698,"v":0.037},{"s":"a","t":0.713,"v":-0.042},{"s":"a","t":0.732,"v":-0.129},{"s":"a","t":0.75,"v":-0.067},{"s":"a","t":0.771,"v":0.174},{"s":"a","t":0.791,"v":0.156},{"s":"a","t":0.807,"v":0.194},{"s":"a","t":0.822,"v":0.218},{"s":"a","t":0.838,"v":0.156},{"s":"a","t":0.858,"v":0.069},{"s":"a","t":0.879,"v":0.032},{"s":"a","t":0.905,"v":-0.042},{"s":"a","t":0.936,"v":-0.104},{"s":"a","t":0.957,"v":-0.117},{"s":"a","t":0.977,"v":-0.112},{"s":"a","t":1.003,"v":-0.129},{"s":"a","t":1.029,"v":-0.141},{"s":"a","t":1.05,"v":-0.161},{"s":"a","t":1.071,"v":-0.179},{"s":"a","t":1.091,"v":-0.161},{"s":"a","t":1.112,"v":-0.149},{"s":"a","t":1.133,"v":-0.174},{"s":"a","t":1.159,"v":-0.186},{"s":"a","t":1.185,"v":-0.216},{"s":"a","t":1.221,"v":-0.246},{"s":"a","t":1.247,"v":-0.216},{"s":"a","t":1.273,"v":-0.171},{"s":"a","t":1.299,"v":-0.196},{"s":"a","t":1.33,"v":-0.179},{"s":"a","t":1.361,"v":-0.179},{"s":"a","t":1.39,"v":-0.171},
{"s":"b","t":0.038,"v":-0.52},{"s":"b","t":0.051,"v":0.231},{"s":"b","t":0.064,"v":0.454},{"s":"b","t":0.077,"v":0.367},{"s":"b","t":0.092,"v":0.293},{"s":"b","t":0.108,"v":0.261},{"s":"b","t":0.128,"v":0.156},{"s":"b","t":0.149,"v":0.082},{"s":"b","t":0.17,"v":-0.03},{"s":"b","t":0.185,"v":-0.117},{"s":"b","t":0.196,"v":-0.141},{"s":"b","t":0.216,"v":-0.104},{"s":"b","t":0.237,"v":-0.099},{"s":"b","t":0.258,"v":-0.104},{"s":"b","t":0.273,"v":-0.166},{"s":"b","t":0.289,"v":-0.266},{"s":"b","t":0.304,"v":-0.328},{"s":"b","t":0.317,"v":-0.291},{"s":"b","t":0.33,"v":-0.253},{"s":"b","t":0.344,"v":-0.34},{"s":"b","t":0.358,"v":-0.439},{"s":"b","t":0.372,"v":-0.315},{"s":"b","t":0.385,"v":-0.017},{"s":"b","t":0.396,"v":0.256},{"s":"b","t":0.404,"v":0.35},{"s":"b","t":0.413,"v":0.28},{"s":"b","t":0.427,"v":0.156},{"s":"b","t":0.445,"v":0.087},{"s":"b","t":0.462,"v":0.057},{"s":"b","t":0.481,"v":-0.042},{"s":"b","t":0.501,"v":-0.129},{"s":"b","t":0.522,"v":-0.124},{"s":"b","t":0.543,"v":-0.141},{"s":"b","t":0.558,"v":-0.136},{"s":"b","t":0.574,"v":-0.117},{"s":"b","t":0.584,"v":-0.141},{"s":"b","t":0.6,"v":-0.166},{"s":"b","t":0.612,"v":-0.067},{"s":"b","t":0.625,"v":0.231},{"s":"b","t":0.639,"v":0.335},{"s":"b","t":0.651,"v":0.256},{"s":"b","t":0.667,"v":0.144},{"s":"b","t":0.685,"v":0.132},{"s":"b","t":0.703,"v":0.107},{"s":"b","t":0.72,"v":0.069},{"s":"b","t":0.737,"v":-0.017},{"s":"b","t":0.751,"v":-0.129},{"s":"b","t":0.762,"v":-0.141},{"s":"b","t":0.781,"v":-0.017},{"s":"b","t":0.793,"v":0.062},{"s":"b","t":0.807,"v":0.007},{"s":"b","t":0.824,"v":-0.067},{"s":"b","t":0.848,"v":-0.055},{"s":"b","t":0.874,"v":-0.012},{"s":"b","t":0.898,"v":0.015},{"s":"b","t":0.915,"v":-0.017},{"s":"b","t":0.936,"v":-0.092},{"s":"b","t":0.962,"v":-0.191},{"s":"b","t":0.983,"v":-0.246},{"s":"b","t":1.009,"v":-0.216},{"s":"b","t":1.035,"v":-0.241},{"s":"b","t":1.05,"v":-0.228},{"s":"b","t":1.071,"v":-0.112},{"s":"b","t":1.086,"v":-0.067},{"s":"b","t":1.102,"v":-0.062},{"s":"b","t":1.12,"v":0.025},{"s":"b","t":1.138,"v":-0.017},{"s":"b","t":1.159,"v":-0.099},{"s":"b","t":1.179,"v":-0.067},{"s":"b","t":1.2,"v":-0.03},{"s":"b","t":1.226,"v":-0.035},{"s":"b","t":1.257,"v":-0.025},{"s":"b","t":1.278,"v":-0.055},{"s":"b","t":1.304,"v":-0.117},{"s":"b","t":1.33,"v":-0.179},{"s":"b","t":1.35,"v":-0.228},{"s":"b","t":1.371,"v":-0.216},{"s":"b","t":1.39,"v":-0.186}
],
"p7":[
{"s":"a","t":0,"v":0.042},{"s":"a","t":0.02,"v":0.05},{"s":"a","t":0.035,"v":0.037},{"s":"a","t":0.046,"v":0.099},{"s":"a","t":0.061,"v":0.179},{"s":"a","t":0.077,"v":0.141},{"s":"a","t":0.097,"v":0.087},{"s":"a","t":0.118,"v":0.05},{"s":"a","t":0.139,"v":0.017},{"s":"a","t":0.16,"v":-0.007},{"s":"a","t":0.18,"v":-0.025},{"s":"a","t":0.196,"v":-0.057},{"s":"a","t":0.206,"v":-0.174},{"s":"a","t":0.213,"v":-0.241},{"s":"a","t":0.224,"v":-0.186},{"s":"a","t":0.237,"v":-0.174},{"s":"a","t":0.251,"v":-0.149},{"s":"a","t":0.263,"v":-0.161},{"s":"a","t":0.279,"v":-0.132},{"s":"a","t":0.294,"v":-0.092},{"s":"a","t":0.315,"v":-0.087},{"s":"a","t":0.335,"v":-0.05},{"s":"a","t":0.351,"v":-0.012},{"s":"a","t":0.364,"v":0.042},{"s":"a","t":0.375,"v":-0.05},{"s":"a","t":0.383,"v":-0.156},{"s":"a","t":0.392,"v":-0.012},{"s":"a","t":0.401,"v":0.067},{"s":"a","t":0.413,"v":0.017},{"s":"a","t":0.424,"v":-0.012},{"s":"a","t":0.434,"v":-0.05},{"s":"a","t":0.449,"v":-0.032},{"s":"a","t":0.47,"v":-0.032},{"s":"a","t":0.486,"v":-0.037},{"s":"a","t":0.496,"v":-0.136},{"s":"a","t":0.506,"v":-0.223},{"s":"a","t":0.52,"v":-0.186},{"s":"a","t":0.527,"v":-0.261},{"s":"a","t":0.535,"v":-0.29},{"s":"a","t":0.545,"v":-0.136},{"s":"a","t":0.553,"v":0.037},{"s":"a","t":0.559,"v":0.05},{"s":"a","t":0.565,"v":-0.136},{"s":"a","t":0.576,"v":-0.087},{"s":"a","t":0.586,"v":-0.017},{"s":"a","t":0.594,"v":-0.062},{"s":"a","t":0.605,"v":-0.05},{"s":"a","t":0.615,"v":-0.062},{"s":"a","t":0.625,"v":0.037},{"s":"a","t":0.636,"v":0.094},{"s":"a","t":0.649,"v":0.099},{"s":"a","t":0.657,"v":-0.012},{"s":"a","t":0.665,"v":-0.149},{"s":"a","t":0.672,"v":-0.099},{"s":"a","t":0.679,"v":-0.092},{"s":"a","t":0.688,"v":-0.149},{"s":"a","t":0.698,"v":-0.112},{"s":"a","t":0.71,"v":-0.117},{"s":"a","t":0.724,"v":-0.112},{"s":"a","t":0.734,"v":-0.132},{"s":"a","t":0.743,"v":-0.074},{"s":"a","t":0.748,"v":-0.112},{"s":"a","t":0.755,"v":-0.181},{"s":"a","t":0.765,"v":-0.037},{"s":"a","t":0.776,"v":0.117},{"s":"a","t":0.786,"v":0.132},{"s":"a","t":0.796,"v":0.062},{"s":"a","t":0.804,"v":-0.025},{"s":"a","t":0.812,"v":-0.012},{"s":"a","t":0.822,"v":-0.074},{"s":"a","t":0.835,"v":-0.107},{"s":"a","t":0.848,"v":-0.092},{"s":"a","t":0.864,"v":-0.136},{"s":"a","t":0.876,"v":-0.087},{"s":"a","t":0.895,"v":-0.069},{"s":"a","t":0.915,"v":-0.062},{"s":"a","t":0.931,"v":-0.037},{"s":"a","t":0.952,"v":0.017},{"s":"a","t":0.972,"v":0.025},{"s":"a","t":0.996,"v":0.032},{"s":"a","t":1.019,"v":0},{"s":"a","t":1.04,"v":-0.012},{"s":"a","t":1.06,"v":-0.032},{"s":"a","t":1.071,"v":-0.057},{"s":"a","t":1.086,"v":-0.017},{"s":"a","t":1.107,"v":-0.005},{"s":"a","t":1.133,"v":-0.007},{"s":"a","t":1.159,"v":-0.017},{"s":"a","t":1.179,"v":0.005},{"s":"a","t":1.2,"v":-0.032},{"s":"a","t":1.226,"v":-0.037},{"s":"a","t":1.247,"v":-0.017},{"s":"a","t":1.273,"v":-0.017},{"s":"a","t":1.288,"v":-0.012},{"s":"a","t":1.299,"v":-0.025},{"s":"a","t":1.319,"v":-0.005},{"s":"a","t":1.345,"v":-0.045},{"s":"a","t":1.371,"v":-0.017},{"s":"a","t":1.392,"v":0},
{"s":"b","t":0,"v":0.042},{"s":"b","t":0.02,"v":0.074},{"s":"b","t":0.04,"v":0.05},{"s":"b","t":0.066,"v":0.012},{"s":"b","t":0.097,"v":-0.007},{"s":"b","t":0.139,"v":-0.012},{"s":"b","t":0.17,"v":-0.02},{"s":"b","t":0.196,"v":-0.025},{"s":"b","t":0.211,"v":-0.05},{"s":"b","t":0.227,"v":-0.112},{"s":"b","t":0.247,"v":-0.236},{"s":"b","t":0.268,"v":-0.36},{"s":"b","t":0.289,"v":-0.447},{"s":"b","t":0.313,"v":-0.484},{"s":"b","t":0.335,"v":-0.434},{"s":"b","t":0.356,"v":-0.285},{"s":"b","t":0.377,"v":-0.062},{"s":"b","t":0.398,"v":0.161},{"s":"b","t":0.418,"v":0.298},{"s":"b","t":0.439,"v":0.347},{"s":"b","t":0.46,"v":0.31},{"s":"b","t":0.48,"v":0.199},{"s":"b","t":0.501,"v":0.062},{"s":"b","t":0.522,"v":-0.074},{"s":"b","t":0.543,"v":-0.149},{"s":"b","t":0.558,"v":-0.156},{"s":"b","t":0.574,"v":-0.124},{"s":"b","t":0.594,"v":-0.012},{"s":"b","t":0.615,"v":0.112},{"s":"b","t":0.636,"v":0.186},{"s":"b","t":0.657,"v":0.199},{"s":"b","t":0.677,"v":0.149},{"s":"b","t":0.698,"v":0.062},{"s":"b","t":0.719,"v":-0.012},{"s":"b","t":0.737,"v":-0.032},{"s":"b","t":0.755,"v":0},{"s":"b","t":0.776,"v":0.074},{"s":"b","t":0.796,"v":0.124},{"s":"b","t":0.812,"v":0.132},{"s":"b","t":0.827,"v":0.099},{"s":"b","t":0.848,"v":0},{"s":"b","t":0.869,"v":-0.124},{"s":"b","t":0.89,"v":-0.211},{"s":"b","t":0.913,"v":-0.243},{"s":"b","t":0.936,"v":-0.199},{"s":"b","t":0.967,"v":-0.166},{"s":"b","t":0.993,"v":-0.194},{"s":"b","t":1.019,"v":-0.273},{"s":"b","t":1.04,"v":-0.318},{"s":"b","t":1.058,"v":-0.33},{"s":"b","t":1.081,"v":-0.298},{"s":"b","t":1.112,"v":-0.216},{"s":"b","t":1.138,"v":-0.191},{"s":"b","t":1.164,"v":-0.211},{"s":"b","t":1.195,"v":-0.256},{"s":"b","t":1.221,"v":-0.266},{"s":"b","t":1.247,"v":-0.243},{"s":"b","t":1.278,"v":-0.223},{"s":"b","t":1.309,"v":-0.248},{"s":"b","t":1.34,"v":-0.305},{"s":"b","t":1.371,"v":-0.323},{"s":"b","t":1.39,"v":-0.29}
]
},
"vconcat":[
{"title":"Amplitude Envelopes, a₁:ᴅ","width":671,"height":235,"data":{"name":"p1"},
 "layer":[
  {"mark":"line","encoding":{
   "x":{"field":"t","type":"quantitative","scale":{"domain":[0,1.4],"nice":false,"zero":false},"axis":{"values":[0,0.2,0.4,0.6,0.8,1,1.2,1.4],"format":"~g","title":" ","titleFontSize":24,"titlePadding":0}},
   "y":{"field":"v","type":"quantitative","scale":{"domain":[0,0.25],"nice":false,"zero":false},"axis":{"values":[0,0.1,0.2],"format":"~g","title":"Amplitude","titleX":-44}},
   "color":{"field":"s","type":"nominal","scale":{"domain":["a1","a2","a3","a4","a5","a6","a7","a8","a9"],"range":["#D95319","#0072BD","#7E2F8E","#EDB120","#77AC30","#D95319","#0072BD","#A2142F","#4DBEEE"]},"legend":null}}},
  {"mark":{"type":"line","opacity":0},"encoding":{
   "x":{"field":"t","type":"quantitative","axis":{"orient":"top","values":[0.2,0.4,0.6,0.8,1,1.2],"labels":false,"title":null}},
   "y":{"field":"v","type":"quantitative","axis":{"orient":"right","values":[0.1,0.2],"labels":false,"title":null}},
   "detail":{"field":"s"}}}
 ],
 "resolve":{"axis":{"x":"independent","y":"independent"}}},
{"title":"Latents - Nonnegative Matrix Factorisation","width":671,"height":135,"data":{"name":"p2"},
 "layer":[
  {"mark":"line","encoding":{
   "x":{"field":"t","type":"quantitative","scale":{"domain":[0,1.4],"nice":false,"zero":false},"axis":{"values":[0,0.2,0.4,0.6,0.8,1,1.2,1.4],"format":"~g","title":null}},
   "y":{"field":"v","type":"quantitative","scale":{"domain":[0,1],"nice":false,"zero":false},"axis":{"values":[0],"title":null}},
   "color":{"field":"s","type":"nominal","scale":{"domain":["a","b"],"range":["#0072BD","#D95319"]},"legend":null}}},
  {"mark":{"type":"line","opacity":0},"encoding":{
   "x":{"field":"t","type":"quantitative","axis":{"orient":"top","values":[0.2,0.4,0.6,0.8,1,1.2],"labels":false,"title":null}},
   "y":{"field":"v","type":"quantitative","axis":{"orient":"right","values":[0],"labels":false,"title":null}},
   "detail":{"field":"s"}}}
 ],
 "resolve":{"axis":{"x":"independent","y":"independent"}}},
{"title":"Latents - Temporal Nonnegative Matrix Factorisation","width":671,"height":135,"data":{"name":"p3"},
 "layer":[
  {"mark":"line","encoding":{
   "x":{"field":"t","type":"quantitative","scale":{"domain":[0,1.4],"nice":false,"zero":false},"axis":{"values":[0,0.2,0.4,0.6,0.8,1,1.2,1.4],"format":"~g","title":null}},
   "y":{"field":"v","type":"quantitative","scale":{"domain":[0,1],"nice":false,"zero":false},"axis":{"values":[0],"title":null}},
   "color":{"field":"s","type":"nominal","scale":{"domain":["a","b"],"range":["#0072BD","#D95319"]},"legend":null}}},
  {"mark":{"type":"line","opacity":0},"encoding":{
   "x":{"field":"t","type":"quantitative","axis":{"orient":"top","values":[0.2,0.4,0.6,0.8,1,1.2],"labels":false,"title":null}},
   "y":{"field":"v","type":"quantitative","axis":{"orient":"right","values":[0],"labels":false,"title":null}},
   "detail":{"field":"s"}}}
 ],
 "resolve":{"axis":{"x":"independent","y":"independent"}}},
{"title":"Latents - Latent Force Model","width":671,"height":135,"data":{"name":"p4"},
 "layer":[
  {"mark":"line","encoding":{
   "x":{"field":"t","type":"quantitative","scale":{"domain":[0,1.4],"nice":false,"zero":false},"axis":{"values":[0,0.2,0.4,0.6,0.8,1,1.2,1.4],"format":"~g","title":null}},
   "y":{"field":"v","type":"quantitative","scale":{"domain":[0,1],"nice":false,"zero":false},"axis":{"values":[0],"title":null}},
   "color":{"field":"s","type":"nominal","scale":{"domain":["a","b"],"range":["#0072BD","#D95319"]},"legend":null}}},
  {"mark":{"type":"line","opacity":0},"encoding":{
   "x":{"field":"t","type":"quantitative","axis":{"orient":"top","values":[0.2,0.4,0.6,0.8,1,1.2],"labels":false,"title":null}},
   "y":{"field":"v","type":"quantitative","axis":{"orient":"right","values":[0],"labels":false,"title":null}},
   "detail":{"field":"s"}}}
 ],
 "resolve":{"axis":{"x":"independent","y":"independent"}}},
{"title":"Latents - Gaussian Process Latent Variable Model","width":671,"height":135,"data":{"name":"p5"},
 "layer":[
  {"mark":"line","encoding":{
   "x":{"field":"t","type":"quantitative","scale":{"domain":[0,1.4],"nice":false,"zero":false},"axis":{"values":[0,0.2,0.4,0.6,0.8,1,1.2,1.4],"format":"~g","title":null}},
   "y":{"field":"v","type":"quantitative","scale":{"domain":[-0.331,0.669],"nice":false,"zero":false},"axis":{"values":[0],"title":null}},
   "color":{"field":"s","type":"nominal","scale":{"domain":["a","b"],"range":["#0072BD","#D95319"]},"legend":null}}},
  {"mark":{"type":"line","opacity":0},"encoding":{
   "x":{"field":"t","type":"quantitative","axis":{"orient":"top","values":[0.2,0.4,0.6,0.8,1,1.2],"labels":false,"title":null}},
   "y":{"field":"v","type":"quantitative","axis":{"orient":"right","values":[0],"labels":false,"title":null}},
   "detail":{"field":"s"}}}
 ],
 "resolve":{"axis":{"x":"independent","y":"independent"}}},
{"title":"Latents - Deep Gaussian Process","width":671,"height":135,"data":{"name":"p6"},
 "layer":[
  {"mark":"line","encoding":{
   "x":{"field":"t","type":"quantitative","scale":{"domain":[0,1.4],"nice":false,"zero":false},"axis":{"values":[0,0.2,0.4,0.6,0.8,1,1.2,1.4],"format":"~g","title":null}},
   "y":{"field":"v","type":"quantitative","scale":{"domain":[-0.501,0.499],"nice":false,"zero":false},"axis":{"values":[0],"title":null}},
   "color":{"field":"s","type":"nominal","scale":{"domain":["a","b"],"range":["#0072BD","#D95319"]},"legend":null}}},
  {"mark":{"type":"line","opacity":0},"encoding":{
   "x":{"field":"t","type":"quantitative","axis":{"orient":"top","values":[0.2,0.4,0.6,0.8,1,1.2],"labels":false,"title":null}},
   "y":{"field":"v","type":"quantitative","axis":{"orient":"right","values":[0],"labels":false,"title":null}},
   "detail":{"field":"s"}}}
 ],
 "resolve":{"axis":{"x":"independent","y":"independent"}}},
{"title":"Latents - Deep Gaussian Process (Multi)","width":671,"height":135,"data":{"name":"p7"},
 "layer":[
  {"mark":"line","encoding":{
   "x":{"field":"t","type":"quantitative","scale":{"domain":[0,1.4],"nice":false,"zero":false},"axis":{"values":[0,0.2,0.4,0.6,0.8,1,1.2,1.4],"format":"~g","title":"Time (seconds)","titlePadding":17}},
   "y":{"field":"v","type":"quantitative","scale":{"domain":[-0.553,0.447],"nice":false,"zero":false},"axis":{"values":[0],"title":null}},
   "color":{"field":"s","type":"nominal","scale":{"domain":["a","b"],"range":["#0072BD","#D95319"]},"legend":null}}},
  {"mark":{"type":"line","opacity":0},"encoding":{
   "x":{"field":"t","type":"quantitative","axis":{"orient":"top","values":[0.2,0.4,0.6,0.8,1,1.2],"labels":false,"title":null}},
   "y":{"field":"v","type":"quantitative","axis":{"orient":"right","values":[0],"labels":false,"title":null}},
   "detail":{"field":"s"}}}
 ],
 "resolve":{"axis":{"x":"independent","y":"independent"}}}
]
}
